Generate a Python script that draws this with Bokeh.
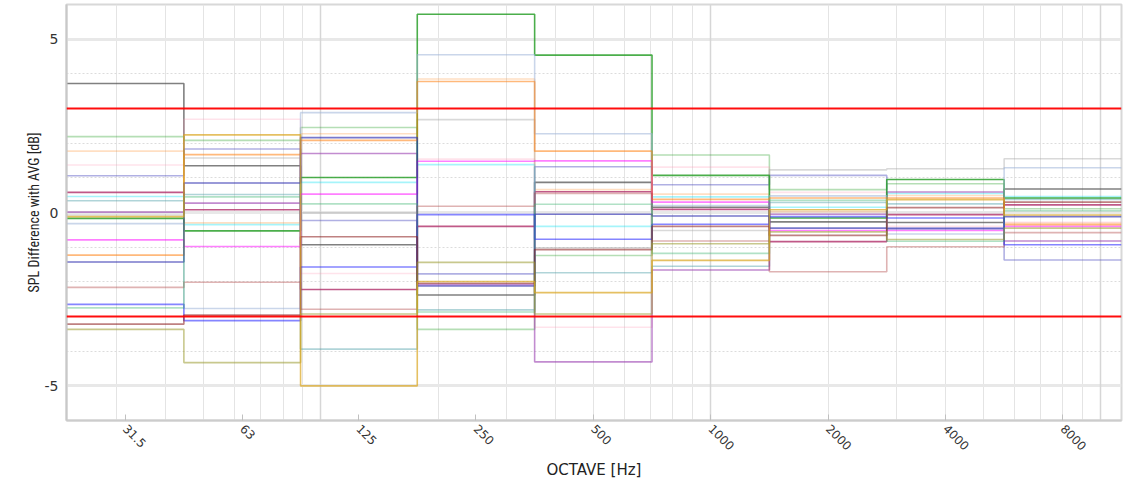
import math

from bokeh.embed import file_html
from bokeh.models import CustomJSTickFormatter, FixedTicker, Grid, Span
from bokeh.plotting import figure
from bokeh.resources import INLINE

# Octave bands
band_labels = ["31.5", "63", "125", "250", "500", "1000", "2000", "4000", "8000"]
band_centers = [31.5, 63, 125, 250, 500, 1000, 2000, 4000, 8000]

# SPL difference from the average [dB] per measurement position, one value per octave band
pos01 = [3.72, 1.35, -0.93, -2.38, 0.87, 0.15, -0.27, -0.29, 0.68]
pos02 = [2.19, 2.08, 2.45, -3.37, -1.24, 1.66, 0.66, 0.83, 0.11]
pos03 = [1.77, -0.30, 2.27, 3.85, 0.66, 0.53, 0.02, 0.49, -0.31]
pos04 = [1.37, 2.69, -1.76, 1.54, -3.31, 1.31, 0.58, -0.40, -0.28]
pos05 = [1.06, 1.83, -0.23, -1.77, 1.32, 0.80, 1.07, -0.44, -1.37]
pos06 = [0.58, 0.08, -2.22, -0.40, 0.60, 0.09, -0.84, -0.06, 0.22]
pos07 = [0.46, -0.35, 0.87, 1.38, -0.40, 0.45, 0.15, 0.55, 0.46]
pos08 = [0.34, 0.52, -3.94, -2.81, -1.74, -1.55, 0.29, 0.25, 0.38]
pos09 = [0.01, 0.27, 1.70, -2.08, -4.31, -1.66, -0.05, 0.59, -0.82]
pos10 = [-0.07, 1.57, -0.01, 2.68, -1.02, -0.52, 1.23, 1.26, 1.55]
pos11 = [-0.17, -0.53, 1.01, 5.72, 4.54, 1.07, -0.16, 0.95, 0.42]
pos12 = [-0.32, -2.77, 2.88, 4.55, 2.27, 0.20, 0.48, -0.62, 1.29]
pos13 = [-0.79, -0.98, 0.53, 1.48, 1.49, 0.30, -0.52, -0.52, -0.40]
pos14 = [-1.23, 1.67, 2.08, 3.78, 1.77, 0.38, 0.42, 0.42, -0.35]
pos15 = [-1.43, 0.85, 2.16, -2.12, -0.05, -0.10, -0.45, -0.47, -0.12]
pos16 = [-2.16, -2.01, -2.79, 0.18, 0.55, -0.82, -1.71, -0.99, -0.58]
pos17 = [-2.65, -3.12, -1.57, -0.06, -0.77, -0.34, -0.12, -0.16, -0.93]
pos18 = [-2.75, 0.45, 0.25, -2.87, 0.24, -1.18, 0.35, -0.83, 0.05]
pos19 = [-3.22, -2.96, -0.70, -2.04, -1.07, -0.40, -0.66, 0.14, 0.30]
pos20 = [-3.37, -4.33, -2.93, -1.44, -2.93, -0.90, -0.56, -0.78, -0.45]
pos21 = [-0.12, 2.24, -5.00, -1.99, -2.31, -1.38, 0.08, 0.37, -0.07]

positions = [pos01, pos02, pos03, pos04, pos05, pos06, pos07, pos08, pos09, pos10, pos11,
             pos12, pos13, pos14, pos15, pos16, pos17, pos18, pos19, pos20, pos21]

# Tolerance limits [dB]
limit_upper = 3
limit_lower = -3

# Line styles (colour, alpha) for each position
styles = [
    ("#555555", 0.75), ("#2ca02c", 0.35), ("#ff7f0e", 0.25), ("#ff8fb0", 0.25),
    ("#5050c0", 0.45), ("#b0306a", 0.80), ("#00e0f0", 0.35), ("#4fa0a8", 0.45),
    ("#9a40b0", 0.60), ("#a0a0a0", 0.40), ("#2ca02c", 0.85), ("#9fb4d8", 0.55),
    ("#ff00ff", 0.50), ("#ff7f0e", 0.55), ("#3030b0", 0.65), ("#b04040", 0.40),
    ("#2020ff", 0.55), ("#3cb371", 0.40), ("#8b1a1a", 0.55), ("#9a9a30", 0.55),
    ("#daa520", 0.70),
]

# Band edges on the octave grid
edges = [band_centers[0] / math.sqrt(2)]
for a, b in zip(band_centers[:-1], band_centers[1:]):
    edges.append(math.sqrt(a * b))
edges.append(band_centers[-1] * math.sqrt(2))

p = figure(
    width=1140, height=483,
    x_axis_type="log",
    x_range=(edges[0], edges[-1]),
    y_range=(-6, 6),
    output_backend="svg",
    toolbar_location=None,
    min_border_left=66, min_border_right=19,
    min_border_top=4, min_border_bottom=63,
    background_fill_color="white",
    border_fill_color="white",
)
p.outline_line_color = "#d8d8d8"
p.outline_line_width = 2

# Grid: every 1..9 x decade (light), decades (a bit darker); y major at 5 dB, dotted every 1 dB
minor_x = [m * d for d in (10, 100, 1000) for m in range(2, 10) if edges[0] < m * d < edges[-1]]
p.xgrid.ticker = FixedTicker(ticks=minor_x)
p.xgrid.grid_line_color = "#e4e4e4"
p.xgrid.grid_line_width = 1
p.add_layout(Grid(dimension=0, ticker=FixedTicker(ticks=[100, 1000, 10000]),
                  grid_line_color="#d6d6d6", grid_line_width=1.5))

p.ygrid.ticker = FixedTicker(ticks=[-5, 0, 5])
p.ygrid.grid_line_color = "#e8e8e8"
p.ygrid.grid_line_width = 3
p.add_layout(Grid(dimension=1, ticker=FixedTicker(ticks=[-4, -3, -2, -1, 1, 2, 3, 4]),
                  grid_line_color="#dcdcdc", grid_line_width=1, grid_line_dash="2 2"))

for vals, (col, alpha) in zip(positions, styles):
    p.step(edges, vals + [vals[-1]], mode="after", line_color=col,
           line_alpha=alpha, line_width=1.6)

for lim in (limit_upper, limit_lower):
    p.add_layout(Span(location=lim, dimension="width", line_color="#ff0000",
                      line_width=2, line_alpha=0.95))

# X axis: octave band centres, rotated labels
p.xaxis.ticker = FixedTicker(ticks=band_centers)
p.xaxis.formatter = CustomJSTickFormatter(
    args=dict(labels={str(c): l for c, l in zip(band_centers, band_labels)}),
    code="const k = String(tick); return (k in labels) ? labels[k] : k;",
)
p.xaxis.major_label_orientation = -math.pi / 4
p.xaxis.major_tick_in = 6
p.xaxis.major_tick_out = 0
p.xaxis.major_tick_line_color = "#c0c0c0"
p.xaxis.minor_tick_line_color = None
p.xaxis.axis_line_color = "#cccccc"
p.xaxis.axis_line_width = 2
p.xaxis.major_label_text_font = "DejaVu Sans"
p.xaxis.major_label_text_font_size = "12px"
p.xaxis.major_label_text_color = "#333333"
p.xaxis.major_label_standoff = 6
p.xaxis.axis_label = "OCTAVE [Hz]"
p.xaxis.axis_label_text_font = "DejaVu Sans"
p.xaxis.axis_label_text_font_size = "15px"
p.xaxis.axis_label_text_font_style = "normal"
p.xaxis.axis_label_text_color = "#222222"
p.xaxis.axis_label_standoff = 4

# Y axis
p.yaxis.ticker = FixedTicker(ticks=[-5, 0, 5])
p.yaxis.formatter = CustomJSTickFormatter(code="return String(tick);")
p.yaxis.major_tick_in = 0
p.yaxis.major_tick_out = 0
p.yaxis.minor_tick_line_color = None
p.yaxis.axis_line_color = "#c8c8c8"
p.yaxis.axis_line_width = 2
p.yaxis.major_label_text_font = "DejaVu Sans"
p.yaxis.major_label_text_font_size = "14px"
p.yaxis.major_label_text_color = "#333333"
p.yaxis.major_label_standoff = 8
p.yaxis.axis_label = "SPL Difference with AVG [dB]"
p.yaxis.axis_label_text_font = "Liberation Sans Narrow, Roboto Condensed, Noto Sans, sans-serif"
p.yaxis.axis_label_text_font_size = "14px"
p.yaxis.axis_label_text_font_style = "normal"
p.yaxis.axis_label_text_color = "#222222"
p.yaxis.axis_label_standoff = 0

open("out.html", "w").write(file_html(p, INLINE))
